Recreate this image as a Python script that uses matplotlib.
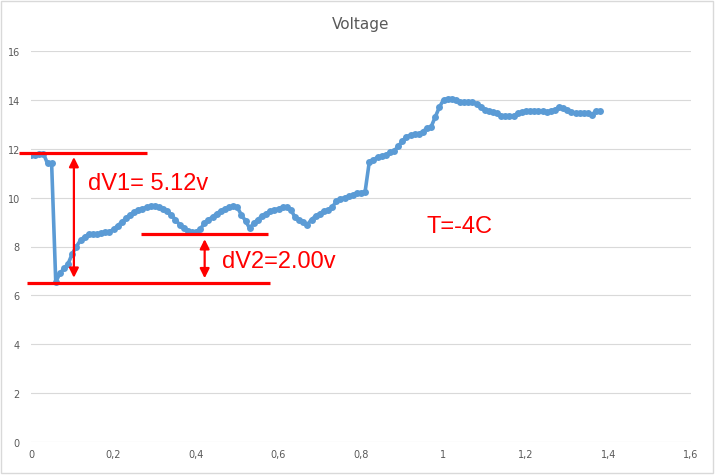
import matplotlib
matplotlib.use("Agg")
import matplotlib.pyplot as plt
from matplotlib.ticker import FuncFormatter
from matplotlib.patches import Rectangle

time = [0.00, 0.01, 0.02, 0.03, 0.04, 0.05, 0.06, 0.07, 0.08, 0.09,
        0.10, 0.11, 0.12, 0.13, 0.14, 0.15, 0.16, 0.17, 0.18, 0.19,
        0.20, 0.21, 0.22, 0.23, 0.24, 0.25, 0.26, 0.27, 0.28, 0.29,
        0.30, 0.31, 0.32, 0.33, 0.34, 0.35, 0.36, 0.37, 0.38, 0.39,
        0.40, 0.41, 0.42, 0.43, 0.44, 0.45, 0.46, 0.47, 0.48, 0.49,
        0.50, 0.51, 0.52, 0.53, 0.54, 0.55, 0.56, 0.57, 0.58, 0.59,
        0.60, 0.61, 0.62, 0.63, 0.64, 0.65, 0.66, 0.67, 0.68, 0.69,
        0.70, 0.71, 0.72, 0.73, 0.74, 0.75, 0.76, 0.77, 0.78, 0.79,
        0.80, 0.81, 0.82, 0.83, 0.84, 0.85, 0.86, 0.87, 0.88, 0.89,
        0.90, 0.91, 0.92, 0.93, 0.94, 0.95, 0.96, 0.97, 0.98, 0.99,
        1.00, 1.01, 1.02, 1.03, 1.04, 1.05, 1.06, 1.07, 1.08, 1.09,
        1.10, 1.11, 1.12, 1.13, 1.14, 1.15, 1.16, 1.17, 1.18, 1.19,
        1.20, 1.21, 1.22, 1.23, 1.24, 1.25, 1.26, 1.27, 1.28, 1.29,
        1.30, 1.31, 1.32, 1.33, 1.34, 1.35, 1.36, 1.37, 1.38]

voltage = [11.75, 11.75, 11.8, 11.8, 11.4, 11.4, 6.55, 6.9, 7.1, 7.3,
           7.7, 8.0, 8.25, 8.4, 8.5, 8.5, 8.5, 8.55, 8.6, 8.6,
           8.7, 8.85, 9.0, 9.15, 9.3, 9.4, 9.5, 9.55, 9.6, 9.65,
           9.65, 9.6, 9.55, 9.45, 9.3, 9.1, 8.9, 8.75, 8.62, 8.6,
           8.6, 8.7, 8.95, 9.1, 9.2, 9.35, 9.45, 9.55, 9.6, 9.65,
           9.6, 9.3, 9.05, 8.75, 8.95, 9.1, 9.25, 9.35, 9.45, 9.5,
           9.55, 9.6, 9.6, 9.5, 9.2, 9.1, 9.0, 8.9, 9.1, 9.25,
           9.35, 9.45, 9.5, 9.6, 9.85, 9.95, 10.0, 10.05, 10.1, 10.2,
           10.2, 10.25, 11.45, 11.55, 11.65, 11.7, 11.75, 11.85, 11.9, 12.1,
           12.3, 12.5, 12.55, 12.6, 12.6, 12.7, 12.85, 12.9, 13.3, 13.7,
           14.0, 14.05, 14.05, 14.0, 13.9, 13.9, 13.9, 13.9, 13.85, 13.7,
           13.6, 13.55, 13.5, 13.45, 13.35, 13.35, 13.35, 13.35, 13.45, 13.5,
           13.55, 13.55, 13.55, 13.55, 13.55, 13.5, 13.55, 13.6, 13.7, 13.65,
           13.6, 13.5, 13.45, 13.45, 13.45, 13.45, 13.4, 13.55, 13.55]

x_ticks = [0, 0.2, 0.4, 0.6, 0.8, 1, 1.2, 1.4, 1.6]
y_ticks = [0, 2, 4, 6, 8, 10, 12, 14, 16]

# red annotation lines: (x0, x1, y)
red_lines = [(-0.03, 0.28, 11.82), (-0.01, 0.58, 6.5), (0.266, 0.574, 8.5)]
# double arrows: (x, y_top, y_bottom)
red_arrows = [(0.104, 11.66, 6.72), (0.421, 8.3, 6.7)]
labels = [(0.138, 10.35, "dV1= 5.12v"), (0.463, 7.16, "dV2=2.00v"), (0.959, 8.59, "T=-4C")]

grey = "#595959"
blue = "#5B9BD5"

fig = plt.figure(figsize=(7.17, 4.77), dpi=100)
ax = fig.add_axes([31 / 717, 1 - 443 / 477, 660 / 717, 391 / 477])

ax.plot(time, voltage, color=blue, lw=2.6, marker="o", markersize=5,
        markeredgewidth=0, zorder=3)

for x0, x1, y in red_lines:
    ax.plot([x0, x1], [y, y], color="red", lw=2.3, clip_on=False, zorder=4,
            solid_capstyle="butt")

for x, y0, y1 in red_arrows:
    ax.annotate("", xy=(x, y1), xytext=(x, y0),
                arrowprops=dict(arrowstyle="<|-|>", color="red", lw=1.6,
                                mutation_scale=14, shrinkA=0, shrinkB=0),
                zorder=4)

for x, y, s in labels:
    ax.text(x, y, s, color="red", fontsize=17, family="Liberation Sans",
            ha="left", va="baseline", zorder=5)

ax.set_xlim(0, 1.6)
ax.set_ylim(0, 16)
ax.set_xticks(x_ticks)
ax.set_yticks(y_ticks)
ax.xaxis.set_major_formatter(FuncFormatter(lambda v, p: ("%g" % v).replace(".", ",")))
ax.tick_params(length=0, labelsize=7, labelcolor=grey)
ax.tick_params(axis="y", pad=8)
ax.tick_params(axis="x", pad=5)
ax.grid(axis="y", color="#d9d9d9", lw=0.8)
ax.set_axisbelow(True)
for s in ax.spines.values():
    s.set_visible(False)

fig.text(361 / 717, 1 - 25 / 477, "Voltage", ha="center", va="center",
         fontsize=11, color=grey)

# light chart border
fig.patches.append(Rectangle((1 / 717, 1 - 474 / 477), 712 / 717, 472 / 477,
                             transform=fig.transFigure, fill=False,
                             edgecolor="#d9d9d9", lw=1))

fig.savefig("out.png", dpi=100)
